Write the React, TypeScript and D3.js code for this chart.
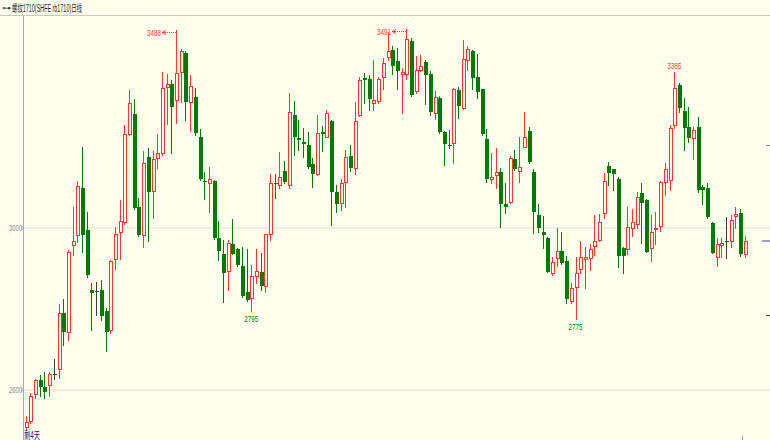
import React from 'react';
import * as d3 from 'd3';

// daily bars of rb1710 (oldest first)
const opens = [
  2509, 2524, 2589, 2624, 2607, 2612, 2640, 2651, 2789, 2743,
  2957, 2982, 3100, 2995, 2846, 2844, 2848, 2795, 2748, 2923,
  2990, 3016, 3232, 3282, 3051, 2983, 3175, 3091, 3172, 3184,
  3347, 3356, 3316, 3386, 3432, 3310, 3323, 3224, 3117, 3112,
  3116, 2975, 2935, 2894, 2961, 2948, 2906, 2841, 2826, 2882,
  2891, 2857, 2985, 3112, 3105, 3141, 3105, 3279, 3223, 3213,
  3205, 3157, 3133, 3236, 3225, 3264, 3090, 3061, 3113, 3178,
  3147, 3279, 3370, 3368, 3308, 3314, 3374, 3421, 3439, 3413,
  3381, 3381, 3462, 3338, 3391, 3410, 3380, 3283, 3321, 3238,
  3206, 3209, 3341, 3296, 3414, 3437, 3372, 3343, 3219, 3120,
  3131, 3138, 3059, 3063, 3170, 3141, 3201, 3240, 3138, 3031,
  2991, 2976, 2890, 2925, 2943, 2919, 2820, 2854, 2898, 2923,
  2925, 2956, 2970, 3036, 3153, 3145, 3121, 2950, 2947, 2999,
  3009, 3086, 3069, 2951, 2997, 3006, 3113, 3118, 3254, 3352,
  3290, 3250, 3223, 3250, 3102, 3099, 3012, 2928, 2958, 2969,
  2968, 3030, 3036, 2935,
];
const highs = [
  2536, 2593, 2626, 2637, 2644, 2644, 2677, 2812, 2824, 2946,
  3053, 3117, 3199, 3039, 2863, 2867, 2872, 2802, 2921, 3003,
  3069, 3254, 3341, 3318, 3073, 3191, 3198, 3191, 3232, 3386,
  3380, 3365, 3488, 3442, 3437, 3378, 3345, 3244, 3139, 3151,
  3118, 3017, 2970, 2970, 3022, 2951, 2954, 2948, 2909, 2947,
  2938, 2986, 3133, 3133, 3188, 3166, 3333, 3313, 3267, 3246,
  3236, 3173, 3279, 3253, 3291, 3267, 3106, 3121, 3193, 3205,
  3312, 3374, 3382, 3378, 3415, 3372, 3419, 3483, 3450, 3444,
  3396, 3491, 3468, 3424, 3428, 3415, 3388, 3338, 3326, 3240,
  3242, 3346, 3349, 3464, 3450, 3439, 3429, 3343, 3244, 3184,
  3198, 3147, 3110, 3178, 3193, 3225, 3287, 3249, 3145, 3059,
  3030, 2978, 2929, 3001, 2991, 2931, 2863, 2929, 2968, 2954,
  2960, 3032, 3035, 3136, 3163, 3146, 3127, 2954, 3053, 3047,
  3088, 3110, 3072, 3032, 3040, 3115, 3160, 3254, 3385, 3357,
  3320, 3300, 3250, 3275, 3106, 3110, 3015, 2975, 2975, 3026,
  3032, 3053, 3047, 2980,
];
const lows = [
  2501, 2519, 2580, 2585, 2580, 2585, 2628, 2630, 2711, 2723,
  2933, 2966, 2941, 2880, 2748, 2784, 2773, 2696, 2741, 2900,
  2923, 3010, 3230, 3048, 2981, 2954, 2969, 3025, 3149, 3180,
  3257, 3184, 3260, 3311, 3267, 3239, 3229, 3119, 3072, 3040,
  2974, 2921, 2817, 2847, 2935, 2906, 2829, 2820, 2795, 2863,
  2847, 2843, 2970, 3073, 3098, 3112, 3098, 3180, 3193, 3176,
  3148, 3102, 3131, 3191, 3224, 3007, 3040, 3044, 3053, 3141,
  3133, 3277, 3308, 3291, 3291, 3308, 3343, 3415, 3380, 3343,
  3283, 3367, 3326, 3333, 3387, 3306, 3279, 3268, 3234, 3156,
  3197, 3160, 3272, 3295, 3390, 3343, 3320, 3229, 3114, 3111,
  3098, 3003, 3036, 3062, 3143, 3113, 3199, 3160, 2987, 2991,
  2950, 2891, 2884, 2907, 2911, 2816, 2815, 2775, 2890, 2851,
  2896, 2933, 2969, 3024, 3106, 3094, 2904, 2890, 2935, 2981,
  3001, 2962, 2940, 2918, 2960, 2993, 3081, 3094, 3246, 3286,
  3193, 3212, 3170, 3090, 3059, 3024, 2938, 2907, 2929, 2925,
  2954, 3001, 2931, 2929,
];
const closes = [
  2522, 2586, 2624, 2608, 2594, 2639, 2640, 2789, 2744, 2941,
  2969, 3104, 2982, 2883, 2840, 2844, 2783, 2742, 2918, 2984,
  3018, 3232, 3309, 3050, 2983, 3160, 3088, 3170, 3184, 3345,
  3355, 3300, 3382, 3437, 3310, 3350, 3235, 3120, 3114, 3120,
  2976, 2942, 2888, 2962, 2937, 2909, 2832, 2822, 2882, 2895,
  2857, 2985, 3110, 3108, 3127, 3114, 3286, 3224, 3217, 3207,
  3151, 3133, 3234, 3232, 3283, 3090, 3059, 3110, 3176, 3149,
  3264, 3365, 3365, 3318, 3316, 3367, 3407, 3437, 3401, 3388,
  3384, 3466, 3328, 3391, 3399, 3377, 3286, 3324, 3238, 3207,
  3205, 3343, 3302, 3417, 3441, 3370, 3336, 3231, 3120, 3126,
  3139, 3059, 3051, 3172, 3145, 3151, 3224, 3164, 3039, 3001,
  2983, 2892, 2917, 2942, 2913, 2824, 2851, 2890, 2928, 2928,
  2948, 2969, 3016, 3115, 3135, 3133, 2932, 2932, 3003, 3016,
  3077, 3061, 2941, 2991, 3001, 3113, 3146, 3246, 3345, 3296,
  3248, 3221, 3242, 3094, 3094, 3026, 2939, 2960, 2962, 2969,
  3020, 3034, 2935, 2968,
];

const titleText = '螺纹1710(SHFE rb1710)日线';
const footText = '剩4天';
const yTicks = [2600, 3000];
// bars whose extremes are marked
const arrowHighs = [32, 81];
const topHighs = [138];
const bottomLows = [48, 117];

const W = 770;
const H = 440;
const BG = '#ffffee';
const UP = '#ff3434';
const DOWN = '#007a00';
const DOJI = '#3c3c3c';
const FONT = '"Liberation Sans", "Noto Sans CJK SC", sans-serif';

export default function App() {
  const x = d3.scaleLinear().domain([0, opens.length - 1]).range([25.7, 744.7]);
  const y = d3.scaleLinear().domain([2600, 3000]).range([390, 228]);

  const candles = opens.map((o, i) => {
    const c = closes[i];
    const cx = Math.round(x(i));
    const yh = Math.round(y(highs[i]));
    const yl = Math.round(y(lows[i]));
    const yo = Math.round(y(o));
    const yc = Math.round(y(c));
    if (c > o) {
      return (
        <g key={i}>
          <line x1={cx + 0.5} x2={cx + 0.5} y1={yh} y2={yl + 1} stroke={UP} />
          <rect x={cx - 0.5} y={yc + 0.5} width={3} height={Math.max(yo - yc, 1)}
            fill={BG} stroke={UP} />
        </g>
      );
    }
    if (c < o) {
      return (
        <g key={i}>
          <line x1={cx + 0.5} x2={cx + 0.5} y1={yh} y2={yl + 1} stroke={DOWN} />
          <rect x={cx - 1} y={yo} width={4} height={Math.max(yc - yo, 1)} fill={DOWN} />
        </g>
      );
    }
    return (
      <g key={i}>
        <line x1={cx + 0.5} x2={cx + 0.5} y1={yh} y2={yl + 1} stroke={DOJI} />
        <line x1={cx - 1} x2={cx + 3} y1={yo + 0.5} y2={yo + 0.5} stroke={DOJI} />
      </g>
    );
  });

  return (
    <div style={{ position: 'absolute', left: 0, top: 0 }}>
      <svg width={W} height={H} style={{ display: 'block', background: BG }}>
        <rect width={W} height={H} fill={BG} />

        {/* title bar */}
        <text x={2} y={11} fontSize={9} fill="#333" fontFamily={FONT}>⊶</text>
        <text x={12} y={11.5} fontSize={10} fill="#222" fontFamily={FONT}
          textLength={70} lengthAdjust="spacingAndGlyphs">{titleText}</text>
        <line x1={0} x2={W} y1={15.5} y2={15.5} stroke="#c8c8c0" />

        {/* grid + y labels */}
        {yTicks.map(t => (
          <g key={t}>
            <line x1={23} x2={W} y1={y(t)} y2={y(t)} stroke="#e9e9dc" strokeWidth={1.5} />
            <rect x={21} y={y(t) - 2} width={3} height={4} fill="#c8d0dc" />
            <text x={22} y={y(t) + 3} fontSize={9} fill="#888" textAnchor="end"
              fontFamily={FONT} textLength={13} lengthAdjust="spacingAndGlyphs">{t}</text>
          </g>
        ))}
        <line x1={23.5} x2={23.5} y1={16} y2={H} stroke="#a8a8a8" />

        {candles}

        {/* extreme markers: value, small arrow, dotted leader to the wick */}
        {arrowHighs.map(i => {
          const cx = Math.round(x(i));
          const yy = Math.round(y(highs[i])) + 2.5;
          return (
            <g key={'a' + i}>
              <line x1={cx - 11} x2={cx} y1={yy} y2={yy} stroke={UP}
                strokeDasharray="1,1" />
              <path d={`M${cx - 14},${yy} L${cx - 10},${yy - 2} M${cx - 14},${yy} L${cx - 10},${yy + 2} M${cx - 14},${yy} L${cx - 11},${yy}`}
                stroke={UP} fill="none" strokeWidth={0.9} />
              <text x={cx - 15} y={yy + 3.5} fontSize={9} fill={UP} textAnchor="end"
                fontFamily={FONT} textLength={14} lengthAdjust="spacingAndGlyphs">
                {highs[i]}
              </text>
            </g>
          );
        })}
        {topHighs.map(i => (
          <text key={'t' + i} x={x(i)} y={y(highs[i]) - 3} fontSize={9} fill={UP}
            textAnchor="middle" fontFamily={FONT} textLength={14}
            lengthAdjust="spacingAndGlyphs">{highs[i]}</text>
        ))}
        {bottomLows.map(i => (
          <text key={'b' + i} x={x(i)} y={y(lows[i]) + 11} fontSize={9} fill={DOWN}
            textAnchor="middle" fontFamily={FONT} textLength={14}
            lengthAdjust="spacingAndGlyphs">{lows[i]}</text>
        ))}

        {/* right edge marks */}
        <line x1={766} x2={W} y1={145.5} y2={145.5} stroke="#7878b8" />
        <line x1={762} x2={W} y1={241} y2={241} stroke="#7c7cc0" strokeWidth={1.5} />
        <line x1={766} x2={W} y1={315.5} y2={315.5} stroke="#30308c" />
        <line x1={742.5} x2={742.5} y1={436} y2={H} stroke="#999" />

        <text x={24} y={438.5} fontSize={10} fill="#1c1c80" fontFamily={FONT}
          textLength={16} lengthAdjust="spacingAndGlyphs">{footText}</text>
      </svg>
    </div>
  );
}
